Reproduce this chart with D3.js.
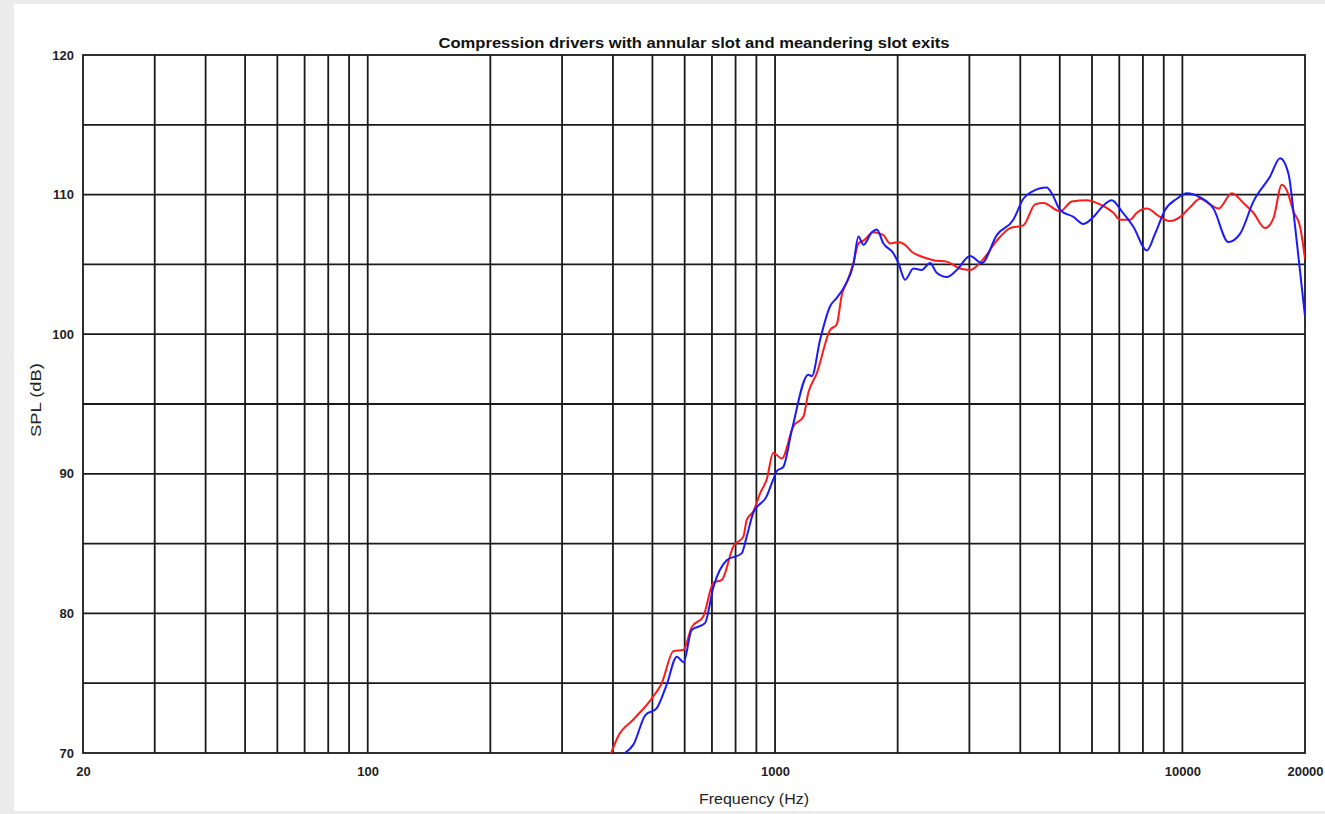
<!DOCTYPE html>
<html><head><meta charset="utf-8">
<script src="https://cdn.jsdelivr.net/npm/d3@7"></script>
<style>html,body{margin:0;padding:0;background:#fff;}svg{display:block;font-family:"Liberation Sans",Arial,sans-serif;}</style>
</head><body>
<script>
const title = "Compression drivers with annular slot and meandering slot exits";
const xLabel = "Frequency (Hz)";
const yLabel = "SPL (dB)";
const xTickLabels = [20, 100, 1000, 10000, 20000];
const yTickLabels = [70, 80, 90, 100, 110, 120];
const xGrid = [30,40,50,60,70,80,90,100,200,300,400,500,600,700,800,900,1000,2000,3000,4000,5000,6000,7000,8000,9000,10000];
const yGrid = [75,80,85,90,95,100,105,110,115];

// red: annular slot exit (estimated)
const redFreq = [396,412,449,498,527,563,596,624,667,706,740,790,836,852,884,919,954,990,1039,1109,1174,1207,1266,1365,1417,1458,1514,1557,1602,1648,1744,1845,1916,2008,2086,2166,2270,2448,2640,2846,3012,3248,3502,3776,4070,4350,4558,5010,5352,5824,6280,6770,7032,7442,7728,8178,8818,9332,9874,10448,11054,11696,12260,13226,14124,14936,15960,16728,17540,18046,18732,19454,20000];
const redSPL  = [70.0,71.2,72.4,73.9,75.0,77.3,77.4,79.0,79.8,82.2,82.4,84.8,85.5,86.7,87.3,88.6,89.6,91.5,91.1,93.4,94.1,95.8,97.2,100.3,100.7,102.8,104.0,105.1,106.5,106.7,107.3,107.1,106.5,106.6,106.4,105.9,105.6,105.3,105.2,104.7,104.6,105.4,106.7,107.6,107.8,109.3,109.4,108.8,109.5,109.6,109.3,108.7,108.2,108.2,108.7,109.0,108.4,108.1,108.4,109.1,109.7,109.3,109.0,110.1,109.4,108.7,107.6,108.3,110.7,110.3,108.8,107.7,105.4];
// blue: meandering slot exit (estimated)
const blueFreq = [428,449,480,512,542,574,596,624,673,706,761,828,852,884,954,990,1010,1048,1099,1207,1231,1290,1365,1417,1486,1557,1602,1648,1728,1777,1845,1952,2008,2086,2186,2292,2402,2494,2640,2794,3012,3218,3502,3846,4070,4268,4646,4778,5010,5402,5714,6048,6340,6710,7100,7580,8178,8570,9068,9688,10254,11054,11918,12972,13864,14936,16420,17374,18214,18914,20000];
const blueSPL  = [70.0,70.6,72.7,73.2,74.9,76.9,76.5,78.8,79.3,81.9,83.8,84.3,85.5,87.2,88.4,89.6,90.2,90.5,93.1,97.1,97.0,99.6,102.0,102.6,103.5,105.0,107.0,106.4,107.3,107.5,106.5,105.8,105.1,103.9,104.7,104.6,105.1,104.4,104.1,104.6,105.6,105.1,107.1,108.2,109.7,110.2,110.5,110.1,108.9,108.4,107.9,108.4,109.1,109.6,108.8,107.7,106.0,107.2,108.9,109.7,110.1,109.8,109.0,106.6,107.2,109.5,111.3,112.6,111.5,107.7,101.3];

const W = 1325, H = 814;
const m = {left: 83, right: 20, top: 55, bottom: 61};
const svg = d3.select("body").append("svg").attr("width", W).attr("height", H);

// page frame look
svg.append("rect").attr("width", W).attr("height", H).attr("fill", "#ececec");
svg.append("rect").attr("x", 14).attr("y", 4).attr("width", W - 14).attr("height", 807).attr("fill", "#fff");

const x = d3.scaleLog().domain([20, 20000]).range([m.left, W - m.right]);
const y = d3.scaleLinear().domain([70, 120]).range([H - m.bottom, m.top]);

const grid = svg.append("g").attr("stroke", "#1a1a1a").attr("stroke-width", 1.8);
grid.selectAll("line.v").data(xGrid).join("line")
  .attr("x1", d => x(d)).attr("x2", d => x(d)).attr("y1", y(70)).attr("y2", y(120));
grid.selectAll("line.h").data(yGrid).join("line")
  .attr("x1", x(20)).attr("x2", x(20000)).attr("y1", d => y(d)).attr("y2", d => y(d));
svg.append("rect").attr("x", x(20)).attr("y", y(120)).attr("width", x(20000) - x(20)).attr("height", y(70) - y(120))
  .attr("fill", "none").attr("stroke", "#1a1a1a").attr("stroke-width", 1.8);

const yAxis = d3.axisLeft(y).tickValues(yTickLabels).tickSize(0).tickPadding(9).tickFormat(d3.format("d"));
const gy = svg.append("g").attr("transform", `translate(${x(20)},0)`).call(yAxis);
gy.select(".domain").remove();
gy.selectAll("text").attr("font-size", 13).attr("font-weight", "bold").attr("fill", "#222").attr("font-family", "Liberation Sans, Arial, sans-serif");

const xAxis = d3.axisBottom(x).tickValues(xTickLabels).tickSize(0).tickPadding(14).tickFormat(d3.format("d"));
const gx = svg.append("g").attr("transform", `translate(0,${y(70)})`).call(xAxis);
gx.select(".domain").remove();
gx.selectAll("text").attr("font-size", 13).attr("font-weight", "bold").attr("fill", "#222").attr("font-family", "Liberation Sans, Arial, sans-serif");

const line = d3.line().x(d => x(d[0])).y(d => y(d[1])).curve(d3.curveMonotoneX);
svg.append("clipPath").attr("id", "clip").append("rect")
  .attr("x", x(20)).attr("y", y(120)).attr("width", x(20000) - x(20)).attr("height", y(70) - y(120));
const plot = svg.append("g").attr("clip-path", "url(#clip)");
plot.append("path").datum(redFreq.map((f, i) => [f, redSPL[i]]))
  .attr("d", line).attr("fill", "none").attr("stroke", "#ff1a1a").attr("stroke-width", 2);
plot.append("path").datum(blueFreq.map((f, i) => [f, blueSPL[i]]))
  .attr("d", line).attr("fill", "none").attr("stroke", "#1a1aff").attr("stroke-width", 2);

svg.append("text").attr("x", (x(20) + x(20000)) / 2).attr("y", 48).attr("text-anchor", "middle")
  .attr("font-size", 15).attr("font-weight", "bold").attr("fill", "#111")
  .attr("textLength", 511).attr("lengthAdjust", "spacingAndGlyphs").text(title);
svg.append("text").attr("x", 754).attr("y", 804).attr("text-anchor", "middle")
  .attr("font-size", 15).attr("fill", "#222")
  .attr("textLength", 110).attr("lengthAdjust", "spacingAndGlyphs").text(xLabel);
svg.append("text").attr("transform", "translate(41,400) rotate(-90)").attr("text-anchor", "middle")
  .attr("font-size", 14).attr("fill", "#222")
  .attr("textLength", 74).attr("lengthAdjust", "spacingAndGlyphs").text(yLabel);
</script>
</body></html>
